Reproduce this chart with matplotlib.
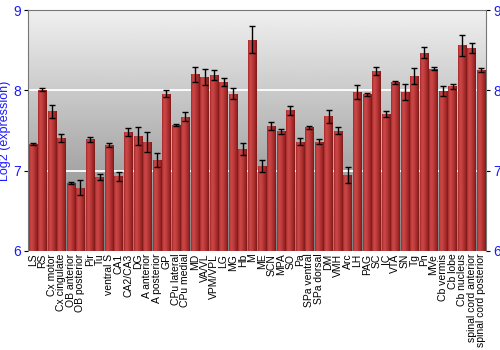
import numpy as np
import matplotlib
matplotlib.use("Agg")
import matplotlib.pyplot as plt
from matplotlib.colors import LinearSegmentedColormap

regions = ["LS", "RS", "Cx motor", "Cx cingulate", "OB anterior", "OB posterior",
           "Pir", "Tu", "ventral S", "CA1", "CA2/CA3", "DG", "A anterior",
           "A posterior", "GP", "CPu lateral", "CPu medial", "MD", "VA/VL",
           "VPM/VPL", "LG", "MG", "Hb", "M", "ME", "SCN", "MPA", "SO", "Pa",
           "SPa ventral", "SPa dorsal", "DM", "VMH", "Arc", "LH", "PAG", "SC",
           "IC", "VTA", "SN", "Tg", "Pn", "MVe", "Cb vermis", "Cb lobe",
           "Cb nucleus", "spinal cord anterior", "spinal cord posterior"]
expression = [7.33, 8.01, 7.74, 7.41, 6.845, 6.79, 7.39, 6.92, 7.32, 6.93, 7.48,
              7.43, 7.36, 7.13, 7.96, 7.57, 7.67, 8.20, 8.17, 8.19, 8.10, 7.96,
              7.27, 8.63, 7.06, 7.556, 7.49, 7.75, 7.36, 7.54, 7.36, 7.68, 7.50,
              6.945, 7.98, 7.95, 8.24, 7.71, 8.10, 7.98, 8.18, 8.47, 8.27, 7.99,
              8.05, 8.56, 8.53, 8.26]
errors = [0.01, 0.02, 0.08, 0.05, 0.01, 0.09, 0.03, 0.035, 0.03, 0.055, 0.05,
          0.11, 0.125, 0.085, 0.04, 0.01, 0.055, 0.095, 0.10, 0.065, 0.05, 0.07,
          0.07, 0.17, 0.075, 0.045, 0.03, 0.06, 0.045, 0.02, 0.03, 0.08, 0.045,
          0.095, 0.09, 0.02, 0.05, 0.035, 0.015, 0.10, 0.095, 0.07, 0.02, 0.065,
          0.03, 0.13, 0.06, 0.025]

blue = "#1a1aff"
fig = plt.figure(figsize=(5, 3.5), dpi=100)
ax = fig.add_axes([0.056, 0.283, 0.916, 0.688])

n = len(regions)
x = np.arange(n)
ax.set_xlim(-0.5, n - 0.5)
ax.set_ylim(6, 9)

# grey gradient background, light at the top
grad = np.linspace(0.94, 0.5, 256).reshape(-1, 1)
ax.imshow(grad, cmap="gray", vmin=0, vmax=1, aspect="auto",
          extent=(-0.5, n - 0.5, 6, 9), zorder=0)

for yv in [7, 8]:
    ax.axhline(yv, color="white", lw=1.3, zorder=1)

bars = ax.bar(x, [v - 6 for v in expression], bottom=6, width=0.88,
              color="#b03535", edgecolor="none", zorder=2)

# shading across each bar
bar_cmap = LinearSegmentedColormap.from_list("bar", ["#6e1414", "#a52a2a", "#cf4a4a"])
shade = np.array([[0.6, 0.85, 0.95, 0.85, 0.7, 0.55, 0.4, 0.2]])
for b in bars:
    im = ax.imshow(shade, cmap=bar_cmap, vmin=0, vmax=1, aspect="auto",
                   extent=(b.get_x(), b.get_x() + b.get_width(), 6, b.get_y() + b.get_height()),
                   zorder=2.5)
    im.set_clip_path(b)

ax.errorbar(x, expression, yerr=errors, fmt="none", ecolor="black",
            elinewidth=1, capsize=2, capthick=1, zorder=3)

ax.set_xticks(x)
ax.set_xticklabels(regions, rotation=90, fontsize=7.5, family="Liberation Sans")
ax.tick_params(axis="x", length=0, pad=2)

ax.set_yticks([6, 7, 8, 9])
ax.tick_params(axis="y", labelcolor=blue, labelsize=10, length=3, pad=2,
               right=True, labelright=True, direction="out")
for lab in ax.get_yticklabels():
    lab.set_family("Liberation Sans")
ax.set_ylabel("Log2 (expression)", color=blue, fontsize=9,
              family="Liberation Sans", labelpad=2)

for s in ax.spines.values():
    s.set_color("#777777")
ax.spines["bottom"].set_visible(False)

fig.savefig("out.png", dpi=100)
